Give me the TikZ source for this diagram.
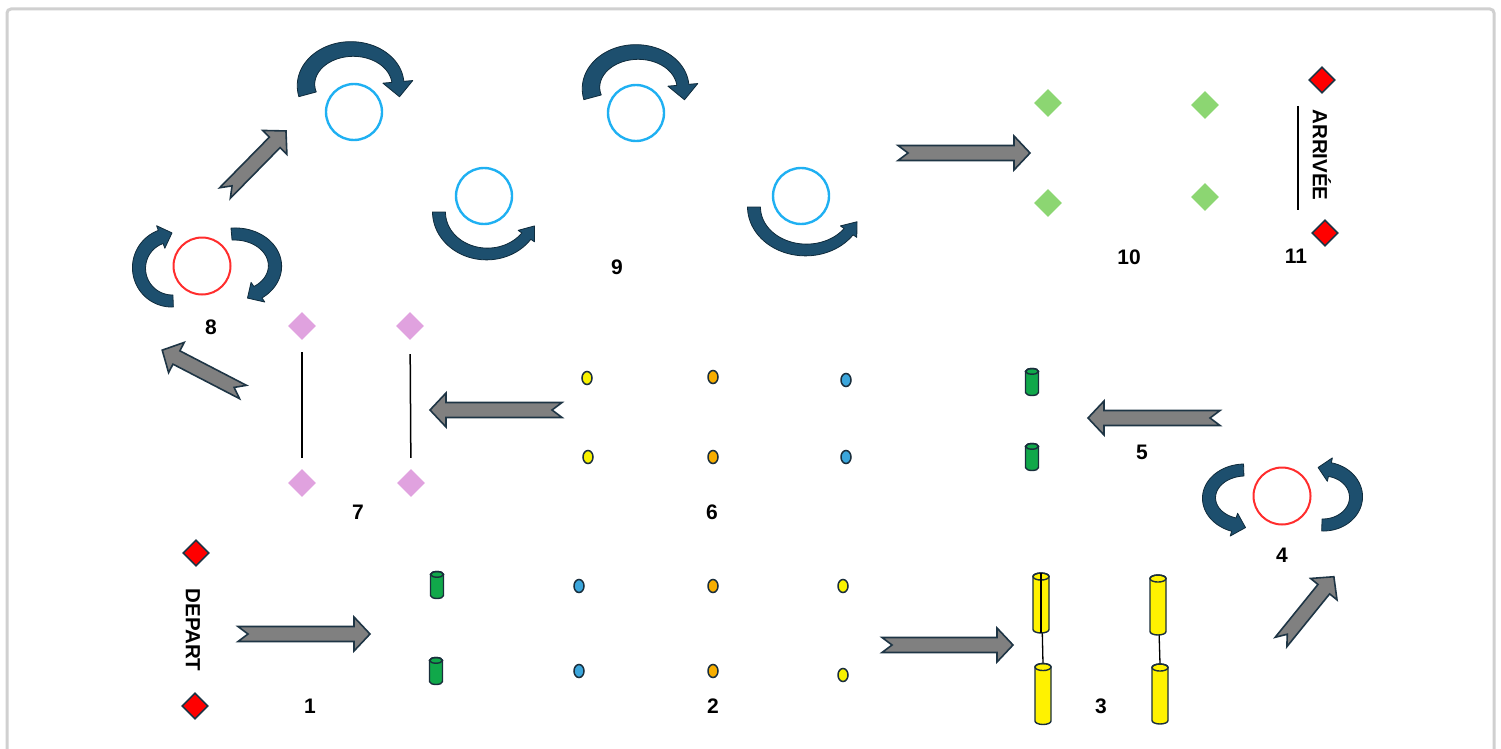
\documentclass[tikz,border=0pt]{standalone}
\usepackage{fontspec}
\setmainfont{Liberation Sans}
\usetikzlibrary{shapes.geometric}

\definecolor{framegray}{HTML}{D0D0D0}
\definecolor{cirblue}{HTML}{1FB0F2}
\definecolor{cirred}{HTML}{FF2D2D}
\definecolor{bendblue}{HTML}{1D4F6E}
\definecolor{bendline}{HTML}{0F2B3C}
\definecolor{arrgray}{HTML}{808080}
\definecolor{arrline}{HTML}{1E3545}
\definecolor{leafgreen}{HTML}{8CD672}
\definecolor{plumpink}{HTML}{E0A2DF}
\definecolor{outline}{HTML}{1A2E3C}
\definecolor{beadyellow}{HTML}{F8F200}
\definecolor{beadorange}{HTML}{F7AE00}
\definecolor{beadblue}{HTML}{3BA6DC}
\definecolor{cylgreen}{HTML}{10A84A}
\definecolor{cylyellow}{HTML}{FFF200}

\tikzset{
  bluecirc/.style={circle, draw=cirblue, line width=2.4pt, minimum size=56, inner sep=0pt},
  redcirc/.style={circle, draw=cirred, line width=2pt, minimum size=57, inner sep=0pt},
  gdia/.style={diamond, fill=leafgreen, minimum width=28, minimum height=28, inner sep=0pt},
  pdia/.style={diamond, fill=plumpink, minimum width=28, minimum height=28, inner sep=0pt},
  rdia/.style={diamond, fill=red, draw=arrline, line width=1.6pt, minimum width=26, minimum height=26, inner sep=0pt},
  bead/.style={ellipse, draw=outline, line width=1.5pt, minimum width=10, minimum height=13, inner sep=0pt},
  lbl/.style={font=\bfseries\fontsize{21}{25}\selectfont, inner sep=0pt},
  capt/.style={font=\bfseries\fontsize{20.5}{24}\selectfont, inner sep=0pt, rotate=-90},
  thinline/.style={line width=1.5pt, black},
  blockarr/.style={fill=arrgray, draw=arrline, line width=1.6pt, line join=miter},
  bendfill/.style={fill=bendblue, draw=bendline, line width=0.8pt, line join=round},
  cylline/.style={draw=outline, line width=1.4pt},
  % curved band arrow: rx, ry, start angle, end angle, tail width, end width, head half width, head length
  pics/bend/.style n args={8}{code={%
    \pgfmathsetmacro\bds{sign((#4)-(#3))}%
    \pgfmathsetmacro\btx{0-(\bds)*(#1)*sin(#4)}%
    \pgfmathsetmacro\bty{(\bds)*(#2)*cos(#4)}%
    \pgfmathsetmacro\btn{veclen(\btx,\bty)}%
    \pgfmathsetmacro\bux{(\btx)/(\btn)}%
    \pgfmathsetmacro\buy{(\bty)/(\btn)}%
    \path[bendfill]
      plot[domain=0:1, samples=48, variable=\s]
        ({((#1)+((#5)+((#6)-(#5))*\s)/2)*cos((#3)+((#4)-(#3))*\s)},{((#2)+((#5)+((#6)-(#5))*\s)/2)*sin((#3)+((#4)-(#3))*\s)})
      -- ({((#1)+(#7))*cos(#4)},{((#2)+(#7))*sin(#4)})
      -- ({(#1)*cos(#4)+(#8)*(\bux)},{(#2)*sin(#4)+(#8)*(\buy)})
      -- ({((#1)-(#7))*cos(#4)},{((#2)-(#7))*sin(#4)})
      -- plot[domain=0:1, samples=48, variable=\s]
        ({((#1)-((#6)+((#5)-(#6))*\s)/2)*cos((#4)+((#3)-(#4))*\s)},{((#2)-((#6)+((#5)-(#6))*\s)/2)*sin((#4)+((#3)-(#4))*\s)})
      -- cycle;
  }},
  % grey block arrow with notched tail, drawn along +x with the given length
  pics/garrow/.style={code={%
    \path[blockarr] (0,7.5) -- ({#1-16},7.5) -- ({#1-16},17) -- (#1,0)
      -- ({#1-16},-17) -- ({#1-16},-7.5) -- (0,-7.5) -- (10,0) -- cycle;
  }},
  % upright cylinder: width, height, fill
  pics/cyl/.style n args={3}{code={%
    \pgfmathsetmacro\cw{#1/2}%
    \pgfmathsetmacro\ch{#2/2}%
    \pgfmathsetmacro\ce{0.22*#1}%
    \node[inner sep=0pt, minimum width=#1, minimum height=#2] (-body) {};
    \path[cylline, fill=#3] (-\cw,\ch-\ce) -- (-\cw,-\ch+\ce)
      arc[start angle=180, end angle=360, x radius=\cw, y radius=\ce]
      -- (\cw,\ch-\ce)
      arc[start angle=0, end angle=180, x radius=\cw, y radius=\ce] -- cycle;
    \path[cylline] (0,\ch-\ce) ellipse[x radius=\cw, y radius=\ce];
  }}
}

\begin{document}
\begin{tikzpicture}[x=1pt, y=1pt]
\useasboundingbox (0,0) rectangle (1501,-749);
\clip (0,0) rectangle (1501,-749);
\draw[framegray, line width=3pt, rounded corners=4pt] (7,-9) rectangle (1494,-775);

% ---------- top row: rotations ----------
\node[bluecirc] (c1) at (354,-112) {};
\node[bluecirc] (c2) at (636,-113) {};
\node[bluecirc] (c3) at (484,-196) {};
\node[bluecirc] (c4) at (801,-196) {};
\pic at (352,-85) {bend={46}{36}{195}{5}{18}{12}{15}{15}};
\pic at (637,-88) {bend={46}{36}{195}{5}{18}{12}{15}{15}};
\pic at (487,-212) {bend={48}{42}{180}{325}{13}{11}{10}{13}};
\pic at (806,-207) {bend={52}{43}{180}{325}{13}{11}{10}{13}};
\node[lbl] (n9) at (617,-267) {9};

% ---------- arrival ----------
\node[gdia] (gd1) at (1048,-103) {};
\node[gdia] (gd2) at (1205,-105) {};
\node[gdia] (gd3) at (1048,-203) {};
\node[gdia] (gd4) at (1205,-197) {};
\node[lbl] (n10) at (1129,-257) {10};
\node[rdia] (rd3) at (1322,-80) {};
\node[rdia] (rd4) at (1325,-233) {};
\node[capt] (arr) at (1322,-155) {ARRIVÉE};
\coordinate (la) at (1298,-106);
\coordinate (lb) at (1298,-210);
\draw[thinline] (la) -- (lb);
\node[lbl] (n11) at (1296,-256) {11};

% ---------- station 8 ----------
\node[redcirc] (r8) at (202,-266) {};
\pic at (172,-268) {bend={33}{33}{272}{110}{12}{14}{12}{12}};
\pic at (235,-266) {bend={40}{32}{95}{-55}{12}{14}{12}{12}};
\node[lbl] (n8) at (211,-327) {8};

% ---------- station 7 ----------
\node[pdia] (p1) at (302,-326) {};
\node[pdia] (p2) at (410,-326) {};
\node[pdia] (p3) at (302,-483) {};
\node[pdia] (p4) at (411,-483) {};
\draw[thinline, shorten <=12pt, shorten >=11pt] (p1) -- (p3);
\draw[thinline, shorten <=14pt, shorten >=11pt] (p2) -- (p4);
\node[lbl] (n7) at (358,-512) {7};

% ---------- station 6 ----------
\node[bead, fill=beadyellow] (b1) at (587,-378) {};
\node[bead, fill=beadorange] (b2) at (713,-377) {};
\node[bead, fill=beadblue]   (b3) at (846,-380) {};
\node[bead, fill=beadyellow] (b4) at (588,-457) {};
\node[bead, fill=beadorange] (b5) at (713,-457) {};
\node[bead, fill=beadblue]   (b6) at (846,-457) {};
\node[lbl] (n6) at (712,-512) {6};

% ---------- station 5 ----------
\pic (gc3) at (1032,-382) {cyl={13}{27}{cylgreen}};
\pic (gc4) at (1032,-457) {cyl={13}{27}{cylgreen}};
\node[lbl] (n5) at (1142,-452) {5};

% ---------- station 4 ----------
\node[redcirc] (r4) at (1282,-496) {};
\pic at (1245,-498) {bend={36}{28}{92}{252}{12}{14}{12}{12}};
\pic at (1323,-497) {bend={33}{28}{268}{438}{12}{14}{12}{12}};
\node[lbl] (n4) at (1282,-555) {4};

% ---------- departure ----------
\node[rdia] (rd1) at (196,-553) {};
\node[rdia] (rd2) at (195,-706) {};
\node[capt] (dep) at (193,-630) {DEPART};
\node[lbl] (n1) at (310,-706) {1};

% ---------- station 2 ----------
\pic (gc1) at (437,-585) {cyl={13}{27}{cylgreen}};
\pic (gc2) at (436,-671) {cyl={13}{27}{cylgreen}};
\node[bead, fill=beadblue]   (b7)  at (579,-586) {};
\node[bead, fill=beadorange] (b8)  at (713,-586) {};
\node[bead, fill=beadyellow] (b9)  at (843,-586) {};
\node[bead, fill=beadblue]   (b10) at (579,-671) {};
\node[bead, fill=beadorange] (b11) at (713,-671) {};
\node[bead, fill=beadyellow] (b12) at (843,-675) {};
\node[lbl] (n2) at (713,-706) {2};

% ---------- station 3 ----------
\draw[thinline, line width=1.3pt] (1041,-576) -- (1043,-664);
\draw[thinline, line width=1.3pt] (1159,-630) -- (1160,-664);
\pic (yc1) at (1041,-603) {cyl={16}{60}{cylyellow}};
\pic (yc2) at (1043,-694) {cyl={16}{61}{cylyellow}};
\pic (yc3) at (1158,-605) {cyl={16}{60}{cylyellow}};
\pic (yc4) at (1160,-694) {cyl={16}{60}{cylyellow}};
\draw[thinline, line width=1.3pt] (yc1-body.north) -- (yc1-body.south);
\node[lbl] (n3) at (1101,-706) {3};

% ---------- grey progress arrows ----------
\coordinate (g1) at (238,-634);
\coordinate (g2) at (882,-645);
\coordinate (g3) at (1281,-642);
\coordinate (g4) at (562,-410);
\coordinate (g5) at (1220,-418);
\coordinate (g6) at (243,-392);
\coordinate (g7) at (225,-193);
\coordinate (g8) at (898,-153);
\pic at (g1) {garrow=132};
\pic at (g2) {garrow=131};
\pic[rotate=51] at (g3) {garrow=84};
\pic[rotate=180] at (g4) {garrow=132};
\pic[rotate=180] at (g5) {garrow=132};
\pic[rotate=152.6] at (g6) {garrow=91};
\pic[rotate=45.5] at (g7) {garrow=87};
\pic at (g8) {garrow=132};
\end{tikzpicture}
\end{document}
